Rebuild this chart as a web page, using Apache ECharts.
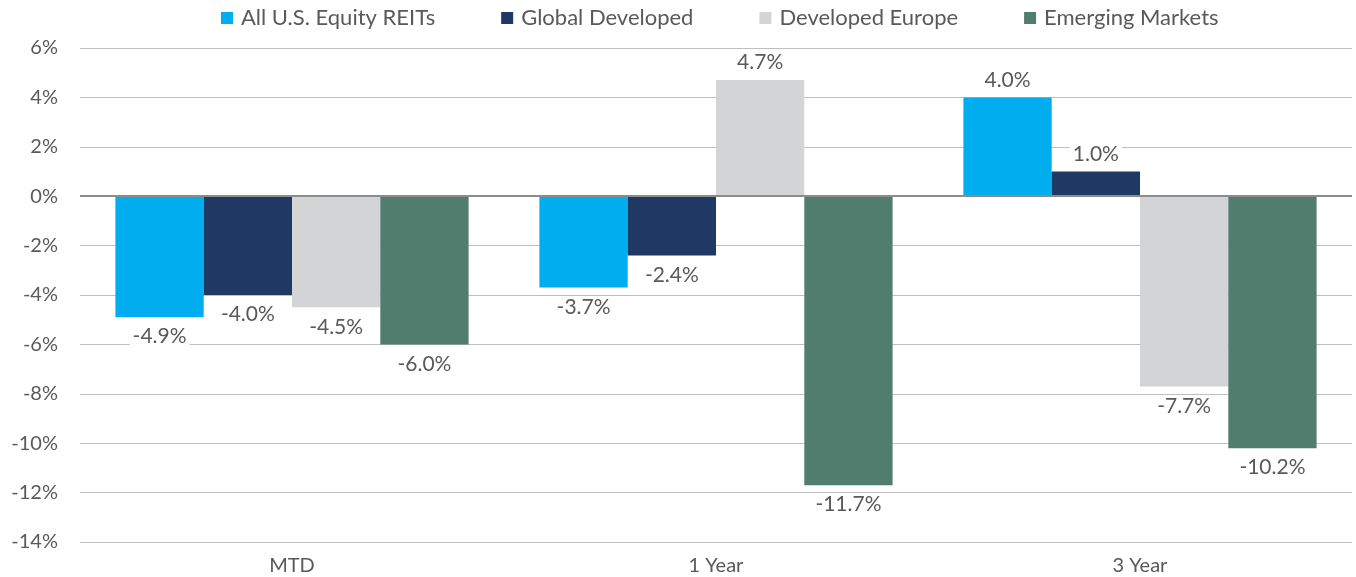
<!DOCTYPE html>
<html>
<head>
<meta charset="utf-8">
<script src="https://cdn.jsdelivr.net/npm/echarts@6/dist/echarts.min.js"></script>
<style>
  html, body { margin: 0; padding: 0; background: #fff; }
  #chart { width: 1356px; height: 577px; }
</style>
</head>
<body>
<div id="chart"></div>
<script>
var categories = ["MTD", "1 Year", "3 Year"];
var seriesNames = ["All U.S. Equity REITs", "Global Developed", "Developed Europe", "Emerging Markets"];
var usReits = [-4.9, -3.7, 4.0];
var globalDev = [-4.0, -2.4, 1.0];
var devEurope = [-4.5, 4.7, -7.7];
var emerging = [-6.0, -11.7, -10.2];
var colors = ["#00AEEF", "#203864", "#D3D4D6", "#517D6E"];

var myChart = echarts.init(document.getElementById('chart'));

function makeSeries(name, data, color) {
  return {
    name: name,
    type: 'bar',
    barGap: '0%',
    barCategoryGap: '16.7%',
    itemStyle: { color: color },
    label: {
      show: true,
      formatter: function (p) { return p.value.toFixed(1) + '%'; },
      fontSize: 21,
      color: '#595959',
      fontFamily: 'Lato',
      backgroundColor: '#fff',
      padding: [0, 3],
      position: 'top'
    },
    data: data.map(function (v) {
      return { value: v, label: { position: v < 0 ? 'bottom' : 'top', distance: v < 0 ? 9 : 7 } };
    })
  };
}

var option = {
  animation: false,
  legend: {
    top: 2,
    left: 216,
    itemWidth: 12,
    itemHeight: 12,
    itemGap: 66,
    icon: 'rect',
    textStyle: { fontSize: 22, color: '#595959', fontFamily: 'Lato', padding: [0, 0, 0, 3] },
    data: seriesNames
  },
  grid: { left: 80, right: 4, top: 48, bottom: 35 },
  xAxis: {
    type: 'category',
    data: categories,
    axisLine: { show: false },
    axisTick: { show: false },
    axisLabel: { fontSize: 20, color: '#595959', fontFamily: 'Lato', margin: 14 }
  },
  yAxis: {
    type: 'value',
    min: -14,
    max: 6,
    interval: 2,
    axisLine: { show: false },
    axisTick: { show: false },
    axisLabel: {
      fontSize: 20, color: '#595959', fontFamily: 'Lato', margin: 22,
      formatter: function (v) { return v + '%'; }
    },
    splitLine: { lineStyle: { color: '#BFBFBF', width: 1 } }
  },
  series: [
    makeSeries(seriesNames[0], usReits, colors[0]),
    makeSeries(seriesNames[1], globalDev, colors[1]),
    makeSeries(seriesNames[2], devEurope, colors[2]),
    makeSeries(seriesNames[3], emerging, colors[3]),
    {
      type: 'line',
      data: [],
      markLine: {
        silent: true,
        symbol: 'none',
        label: { show: false },
        lineStyle: { color: '#8C8C8C', width: 2, type: 'solid' },
        data: [{ yAxis: 0 }]
      },
      z: 1
    }
  ]
};
myChart.setOption(option);
</script>
</body>
</html>
